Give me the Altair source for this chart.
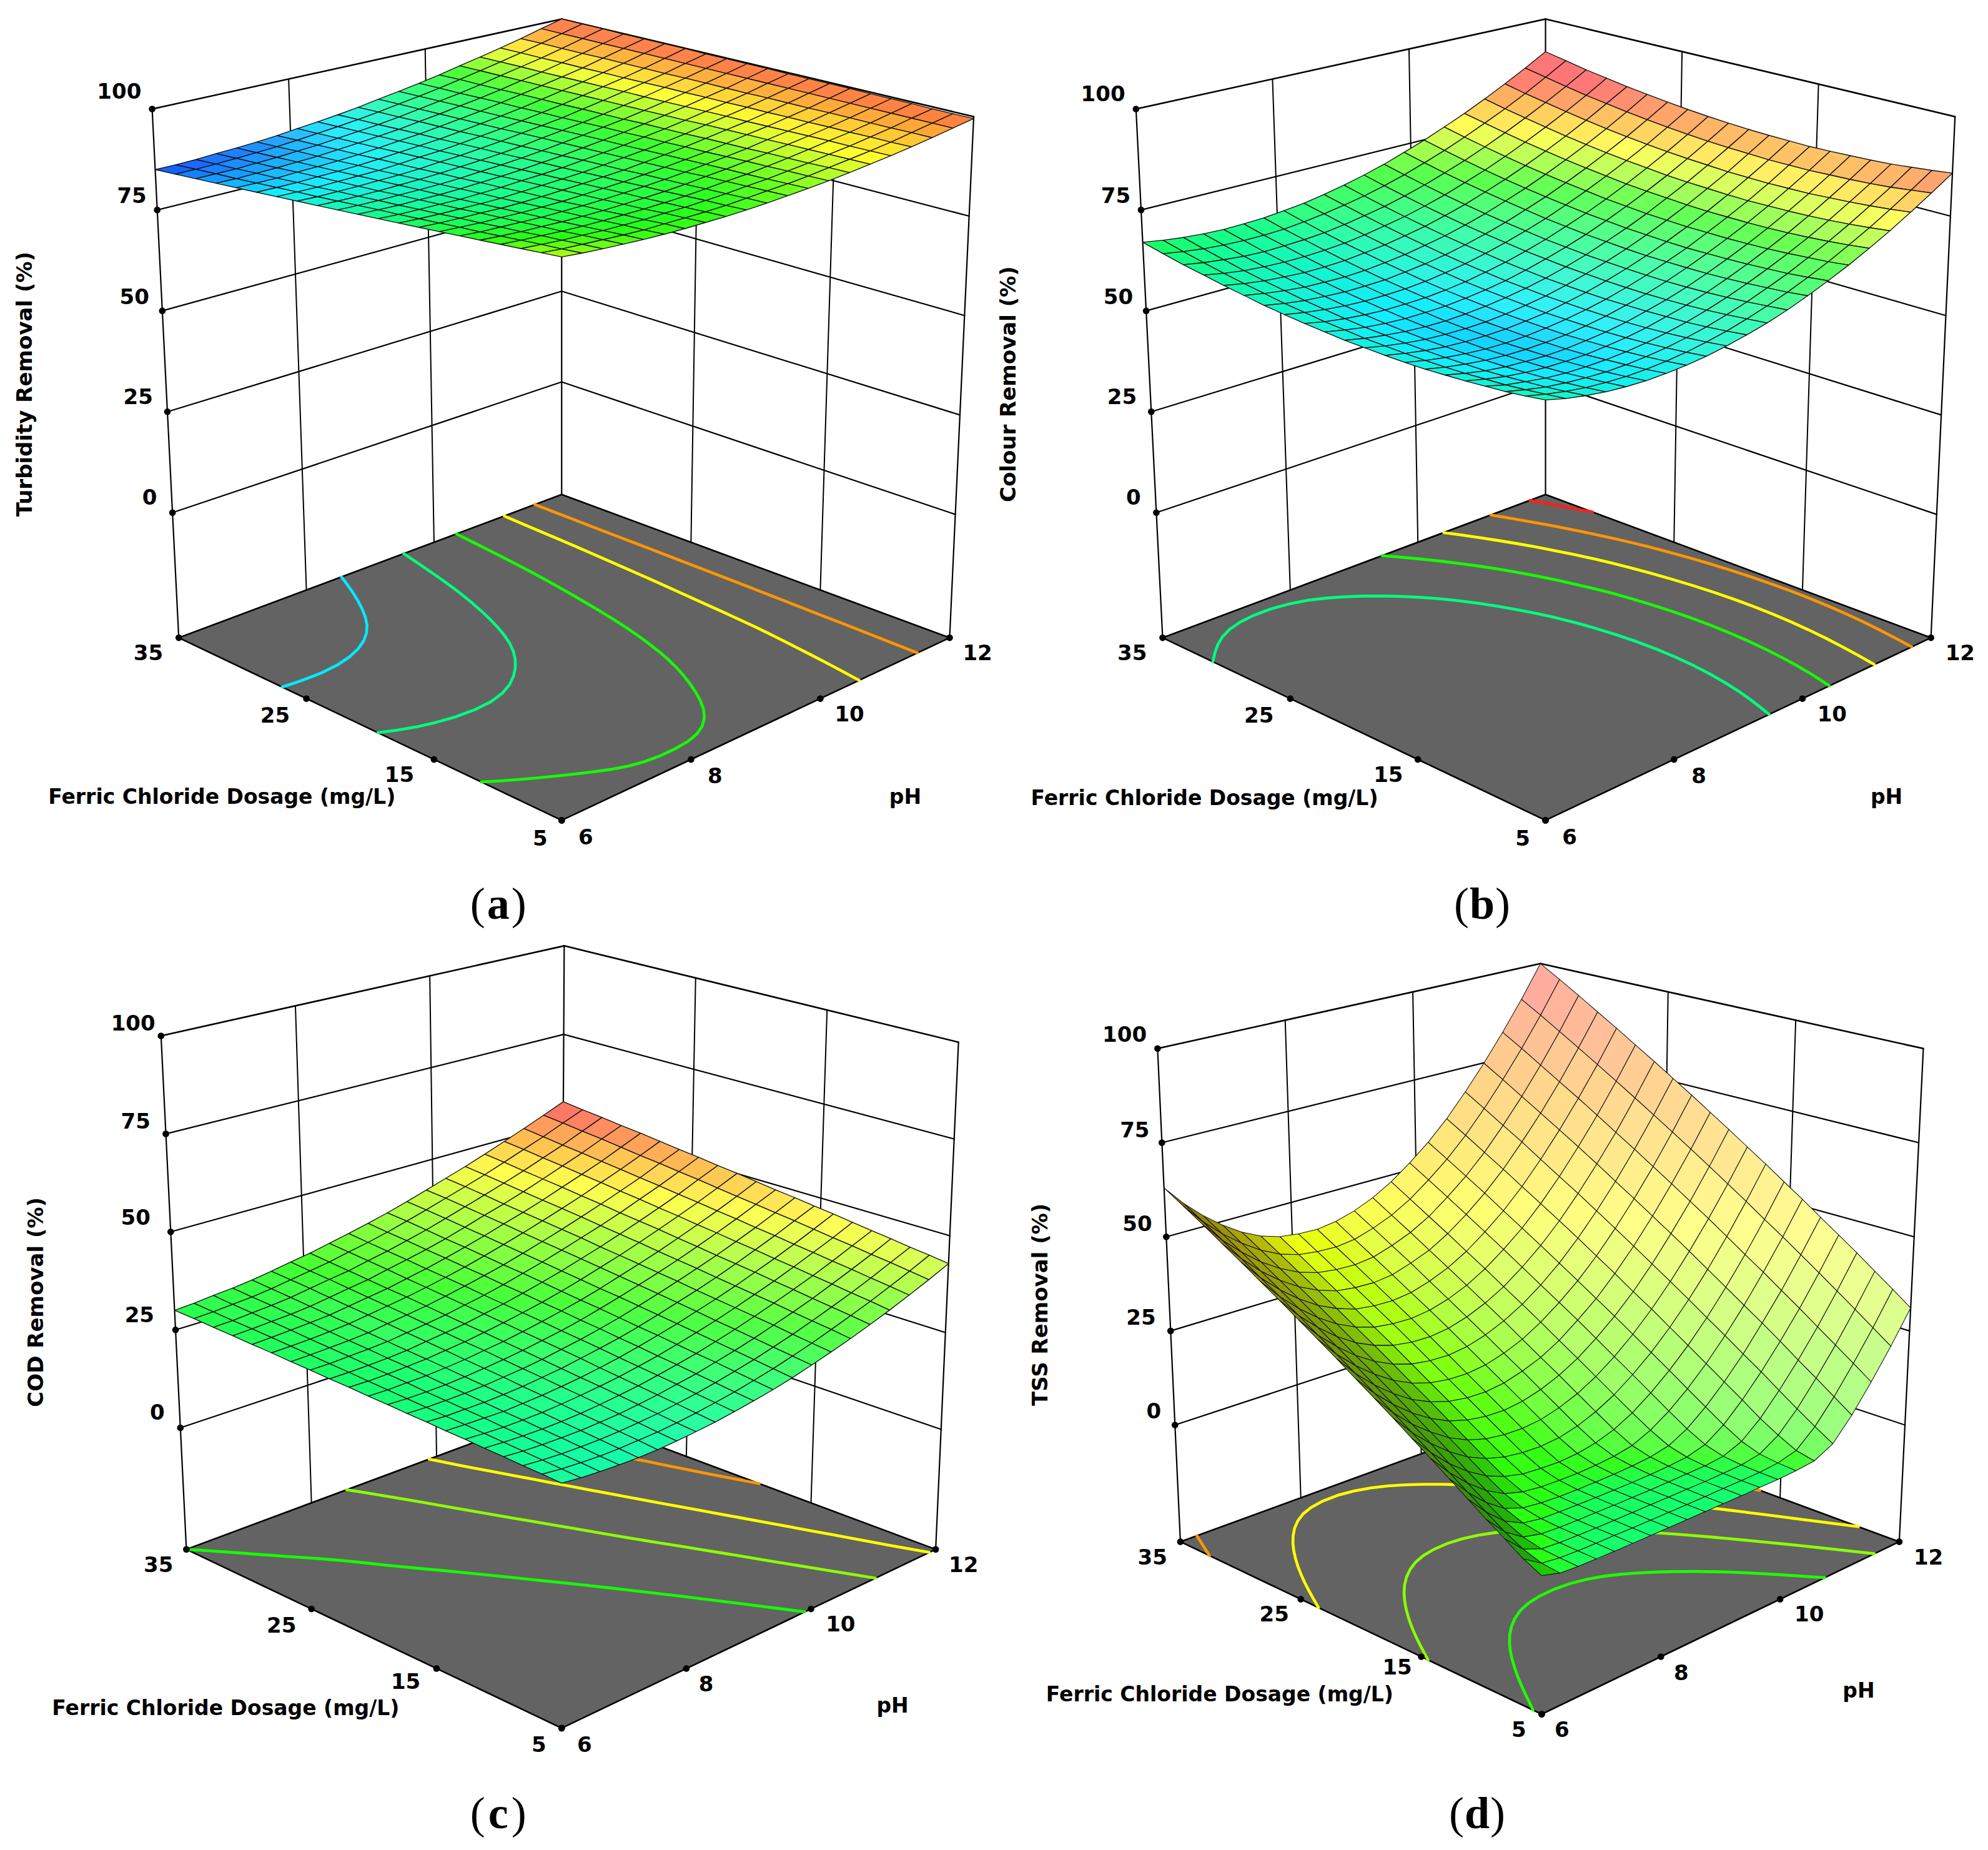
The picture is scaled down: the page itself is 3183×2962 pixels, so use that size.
import altair as alt
import numpy as np

# z values: rows = dosage 5..35 (21 rows), columns = pH 6..12 (21 columns)
TURBIDITY = [
[95.0,94.5,94.1,93.8,93.5,93.3,93.2,93.2,93.2,93.3,93.5,93.8,94.1,94.5,95.0,95.6,96.2,96.9,97.7,98.6,99.5],
[94.5,94.0,93.7,93.4,93.1,92.9,92.9,92.9,92.9,93.0,93.3,93.6,93.9,94.3,94.9,95.5,96.1,96.8,97.7,98.6,99.5],
[94.0,93.6,93.2,93.0,92.7,92.6,92.5,92.6,92.6,92.8,93.0,93.4,93.7,94.2,94.7,95.4,96.0,96.8,97.6,98.6,99.5],
[93.5,93.1,92.8,92.5,92.3,92.2,92.2,92.2,92.3,92.5,92.8,93.2,93.5,94.0,94.6,95.3,96.0,96.7,97.6,98.6,99.6],
[93.0,92.6,92.3,92.1,91.9,91.8,91.8,91.9,92.0,92.2,92.5,93.0,93.4,93.9,94.5,95.2,95.9,96.7,97.6,98.6,99.6],
[92.5,92.1,91.9,91.7,91.5,91.5,91.5,91.6,91.8,92.0,92.3,92.7,93.2,93.7,94.3,95.1,95.8,96.6,97.6,98.6,99.6],
[92.0,91.7,91.4,91.3,91.1,91.1,91.1,91.3,91.5,91.7,92.1,92.5,93.0,93.5,94.2,95.0,95.7,96.6,97.5,98.6,99.7],
[91.5,91.2,91.0,90.9,90.7,90.7,90.8,91.0,91.2,91.5,91.8,92.3,92.8,93.4,94.1,94.9,95.6,96.5,97.5,98.6,99.7],
[91.0,90.7,90.5,90.4,90.3,90.3,90.5,90.7,90.9,91.2,91.6,92.1,92.6,93.2,93.9,94.8,95.6,96.5,97.5,98.6,99.7],
[90.5,90.2,90.1,90.0,89.9,90.0,90.1,90.4,90.6,90.9,91.4,91.9,92.4,93.1,93.8,94.6,95.5,96.4,97.4,98.6,99.7],
[90.0,89.8,89.6,89.6,89.5,89.6,89.8,90.0,90.3,90.7,91.1,91.7,92.3,92.9,93.7,94.5,95.4,96.4,97.4,98.6,99.8],
[89.5,89.3,89.2,89.2,89.2,89.2,89.4,89.7,90.0,90.4,90.9,91.5,92.1,92.8,93.5,94.4,95.3,96.3,97.4,98.6,99.8],
[89.0,88.8,88.7,88.7,88.8,88.9,89.1,89.4,89.7,90.1,90.6,91.3,91.9,92.6,93.4,94.3,95.2,96.3,97.4,98.6,99.8],
[88.5,88.3,88.3,88.3,88.4,88.5,88.7,89.1,89.4,89.9,90.4,91.1,91.7,92.4,93.3,94.2,95.2,96.2,97.3,98.6,99.8],
[88.0,87.9,87.8,87.9,88.0,88.1,88.4,88.8,89.1,89.6,90.2,90.8,91.5,92.3,93.1,94.1,95.1,96.1,97.3,98.6,99.9],
[87.5,87.4,87.4,87.5,87.6,87.8,88.1,88.5,88.9,89.3,89.9,90.6,91.3,92.1,93.0,94.0,95.0,96.1,97.3,98.6,99.9],
[87.0,86.9,86.9,87.1,87.2,87.4,87.7,88.1,88.6,89.1,89.7,90.4,91.1,92.0,92.9,93.9,94.9,96.0,97.3,98.6,99.9],
[86.5,86.4,86.5,86.6,86.8,87.0,87.4,87.8,88.3,88.8,89.5,90.2,91.0,91.8,92.7,93.8,94.8,96.0,97.2,98.6,99.9],
[86.0,86.0,86.0,86.2,86.4,86.7,87.0,87.5,88.0,88.5,89.2,90.0,90.8,91.6,92.6,93.7,94.8,95.9,97.2,98.6,100.0],
[85.5,85.5,85.6,85.8,86.0,86.3,86.7,87.2,87.7,88.3,89.0,89.8,90.6,91.5,92.5,93.6,94.7,95.9,97.2,98.6,100.0],
[85.0,85.0,85.1,85.4,85.6,85.9,86.3,86.9,87.4,88.0,88.7,89.6,90.4,91.3,92.3,93.5,94.6,95.8,97.1,98.6,100.0],
]
COLOUR = [
[63.0,61.8,60.9,60.2,59.8,59.6,59.7,60.0,60.5,61.3,62.3,63.5,65.0,66.8,68.8,71.0,73.5,76.2,79.2,82.4,85.8],
[62.3,61.2,60.3,59.6,59.2,59.0,59.1,59.4,59.9,60.7,61.7,63.0,64.5,66.2,68.2,70.4,72.9,75.6,78.6,81.8,85.2],
[61.7,60.6,59.7,59.1,58.7,58.5,58.6,58.9,59.4,60.2,61.2,62.5,64.0,65.8,67.7,70.0,72.4,75.1,78.1,81.2,84.7],
[61.3,60.1,59.3,58.6,58.2,58.1,58.2,58.5,59.0,59.8,60.8,62.1,63.6,65.4,67.4,69.6,72.0,74.7,77.7,80.8,84.2],
[60.9,59.8,58.9,58.3,57.9,57.8,57.8,58.2,58.7,59.5,60.6,61.8,63.3,65.1,67.1,69.3,71.7,74.4,77.4,80.5,83.9],
[60.6,59.5,58.6,58.0,57.7,57.5,57.6,58.0,58.5,59.3,60.4,61.6,63.1,64.9,66.9,69.1,71.5,74.2,77.1,80.3,83.7],
[60.3,59.3,58.5,57.9,57.5,57.4,57.5,57.8,58.4,59.2,60.3,61.5,63.0,64.8,66.8,69.0,71.4,74.1,77.0,80.1,83.5],
[60.2,59.2,58.4,57.8,57.4,57.3,57.4,57.8,58.4,59.2,60.2,61.5,63.0,64.8,66.7,69.0,71.4,74.0,76.9,80.1,83.4],
[60.2,59.2,58.4,57.8,57.5,57.4,57.5,57.9,58.4,59.3,60.3,61.6,63.1,64.8,66.8,69.0,71.4,74.1,77.0,80.1,83.5],
[60.3,59.3,58.5,57.9,57.6,57.5,57.6,58.0,58.6,59.4,60.5,61.8,63.3,65.0,67.0,69.2,71.6,74.3,77.1,80.3,83.6],
[60.4,59.4,58.7,58.1,57.8,57.7,57.9,58.3,58.9,59.7,60.7,62.0,63.5,65.3,67.2,69.4,71.9,74.5,77.4,80.5,83.8],
[60.7,59.7,58.9,58.4,58.1,58.1,58.2,58.6,59.2,60.0,61.1,62.4,63.9,65.6,67.6,69.8,72.2,74.8,77.7,80.8,84.1],
[61.0,60.0,59.3,58.8,58.5,58.5,58.6,59.0,59.6,60.5,61.5,62.8,64.3,66.1,68.0,70.2,72.6,75.3,78.1,81.2,84.5],
[61.4,60.5,59.8,59.3,59.0,59.0,59.1,59.5,60.2,61.0,62.1,63.4,64.9,66.6,68.6,70.8,73.2,75.8,78.6,81.7,85.0],
[61.9,61.0,60.3,59.9,59.6,59.6,59.7,60.2,60.8,61.6,62.7,64.0,65.5,67.3,69.2,71.4,73.8,76.4,79.2,82.3,85.6],
[62.6,61.7,61.0,60.5,60.3,60.2,60.4,60.9,61.5,62.4,63.4,64.7,66.2,68.0,69.9,72.1,74.5,77.1,79.9,83.0,86.3],
[63.3,62.4,61.7,61.3,61.0,61.0,61.2,61.7,62.3,63.2,64.2,65.5,67.0,68.8,70.7,72.9,75.3,77.9,80.7,83.8,87.0],
[64.1,63.2,62.5,62.1,61.9,61.9,62.1,62.5,63.2,64.1,65.1,66.4,67.9,69.7,71.6,73.8,76.2,78.8,81.6,84.6,87.9],
[64.9,64.1,63.5,63.0,62.8,62.9,63.1,63.5,64.2,65.1,66.1,67.4,68.9,70.7,72.6,74.8,77.2,79.8,82.6,85.6,88.8],
[65.9,65.1,64.5,64.1,63.9,63.9,64.1,64.6,65.3,66.2,67.2,68.5,70.0,71.8,73.7,75.9,78.3,80.8,83.6,86.7,89.9],
[67.0,66.2,65.6,65.2,65.0,65.1,65.3,65.8,66.4,67.3,68.4,69.7,71.2,73.0,74.9,77.1,79.4,82.0,84.8,87.8,91.0],
]
COD = [
[25.0,24.5,24.2,24.0,23.9,24.0,24.3,24.7,25.2,25.9,26.7,27.6,28.7,30.0,31.4,32.9,34.6,36.4,38.4,40.5,42.8],
[25.3,24.8,24.5,24.3,24.3,24.5,24.7,25.1,25.7,26.4,27.2,28.2,29.3,30.6,32.0,33.6,35.3,37.1,39.1,41.2,43.5],
[25.5,25.1,24.8,24.7,24.7,24.9,25.2,25.6,26.2,26.9,27.8,28.8,29.9,31.2,32.6,34.2,35.9,37.7,39.7,41.9,44.1],
[25.8,25.4,25.2,25.1,25.1,25.3,25.6,26.1,26.7,27.5,28.3,29.4,30.5,31.8,33.3,34.8,36.5,38.4,40.4,42.5,44.8],
[26.0,25.7,25.5,25.4,25.5,25.7,26.1,26.6,27.2,28.0,28.9,29.9,31.1,32.4,33.9,35.5,37.2,39.0,41.0,43.2,45.4],
[26.3,26.0,25.8,25.8,25.9,26.2,26.6,27.1,27.7,28.5,29.4,30.5,31.7,33.0,34.5,36.1,37.8,39.7,41.7,43.8,46.1],
[26.5,26.3,26.2,26.1,26.3,26.6,27.0,27.5,28.2,29.0,30.0,31.1,32.3,33.7,35.1,36.7,38.5,40.3,42.3,44.5,46.8],
[26.8,26.5,26.5,26.5,26.7,27.0,27.5,28.0,28.8,29.6,30.5,31.6,32.9,34.3,35.7,37.3,39.1,41.0,43.0,45.2,47.4],
[27.0,26.8,26.8,26.9,27.1,27.5,27.9,28.5,29.3,30.1,31.1,32.2,33.5,34.9,36.4,38.0,39.7,41.6,43.6,45.8,48.1],
[27.3,27.1,27.1,27.2,27.5,27.9,28.4,29.0,29.8,30.6,31.6,32.8,34.1,35.5,37.0,38.6,40.4,42.3,44.3,46.5,48.7],
[27.5,27.4,27.5,27.6,27.9,28.3,28.9,29.5,30.3,31.2,32.2,33.3,34.6,36.1,37.6,39.2,41.0,42.9,44.9,47.1,49.4],
[27.8,27.7,27.8,28.0,28.3,28.8,29.3,30.0,30.8,31.7,32.7,33.9,35.2,36.7,38.2,39.9,41.7,43.6,45.6,47.8,50.1],
[28.0,28.0,28.1,28.3,28.6,29.2,29.8,30.4,31.3,32.2,33.3,34.5,35.8,37.3,38.8,40.5,42.3,44.2,46.2,48.5,50.7],
[28.3,28.3,28.5,28.7,29.0,29.6,30.2,30.9,31.8,32.7,33.8,35.1,36.4,37.9,39.5,41.1,42.9,44.9,46.9,49.1,51.4],
[28.5,28.6,28.8,29.0,29.4,30.1,30.7,31.4,32.3,33.3,34.4,35.6,37.0,38.5,40.1,41.8,43.6,45.5,47.5,49.8,52.0],
[28.8,28.9,29.1,29.4,29.8,30.5,31.2,31.9,32.8,33.8,34.9,36.2,37.6,39.1,40.7,42.4,44.2,46.2,48.2,50.4,52.7],
[29.0,29.2,29.5,29.8,30.2,30.9,31.6,32.3,33.3,34.3,35.5,36.8,38.2,39.8,41.3,43.0,44.9,46.8,48.8,51.1,53.4],
[29.3,29.5,29.8,30.1,30.6,31.3,32.1,32.8,33.9,34.9,36.0,37.3,38.8,40.4,41.9,43.6,45.5,47.5,49.5,51.8,54.0],
[29.5,29.7,30.1,30.5,31.0,31.8,32.6,33.3,34.4,35.4,36.6,37.9,39.4,41.0,42.6,44.3,46.1,48.1,50.1,52.4,54.7],
[29.8,30.0,30.4,30.8,31.4,32.2,33.0,33.8,34.9,35.9,37.1,38.5,40.0,41.6,43.2,44.9,46.8,48.8,50.8,53.1,55.3],
[30.0,30.3,30.8,31.2,31.8,32.6,33.5,34.3,35.4,36.5,37.7,39.0,40.5,42.1,43.8,45.5,47.4,49.4,51.5,53.7,56.0],
]
TSS = [
[2.0,0.7,0.4,0.3,0.2,0.2,0.2,0.2,0.2,0.2,0.2,0.2,0.3,0.3,0.5,1.0,3.4,8.8,15.5,22.9,31.1],
[4.1,1.2,0.6,0.4,0.3,0.3,0.2,0.2,0.2,0.2,0.2,0.3,0.3,0.4,0.8,2.0,6.2,12.0,18.8,26.3,34.6],
[7.0,2.7,0.9,0.5,0.4,0.3,0.3,0.3,0.3,0.3,0.3,0.3,0.4,0.6,1.4,4.3,9.2,15.3,22.1,29.7,38.0],
[9.8,5.0,1.9,0.8,0.5,0.4,0.4,0.3,0.3,0.3,0.4,0.5,0.6,1.1,3.0,7.0,12.4,18.5,25.4,33.1,41.5],
[12.9,7.9,3.9,1.6,0.8,0.6,0.5,0.4,0.4,0.4,0.5,0.7,1.1,2.4,5.6,10.2,15.7,21.9,28.8,36.5,44.9],
[16.0,10.9,6.6,3.3,1.6,1.0,0.7,0.6,0.6,0.7,0.9,1.3,2.3,4.8,8.6,13.3,18.8,25.2,32.1,39.9,48.3],
[19.1,13.9,9.5,5.9,3.3,1.9,1.3,1.1,1.0,1.2,1.6,2.5,4.6,7.7,11.7,16.5,22.1,28.4,35.5,43.3,51.8],
[22.2,17.0,12.5,8.8,5.9,3.9,2.7,2.3,2.1,2.4,3.3,4.9,7.4,10.8,14.9,19.7,25.3,31.7,38.8,46.6,55.2],
[25.4,20.1,15.7,11.9,8.8,6.6,5.2,4.5,4.3,4.7,5.9,7.8,10.4,13.9,18.0,22.9,28.6,35.0,42.2,50.1,58.7],
[28.5,23.2,18.7,15.0,11.8,9.5,8.0,7.3,7.1,7.6,8.9,10.8,13.5,17.0,21.2,26.2,31.9,38.4,45.6,53.5,62.1],
[31.6,26.3,21.8,18.0,14.9,12.5,11.0,10.2,10.0,10.6,11.9,13.9,16.6,20.2,24.4,29.3,35.1,41.7,48.9,56.9,65.6],
[34.8,29.4,24.9,21.1,17.9,15.6,14.0,13.2,13.0,13.6,15.0,16.9,19.7,23.4,27.5,32.6,38.4,45.0,52.3,60.3,69.0],
[37.9,32.5,28.0,24.2,21.0,18.6,17.0,16.2,16.0,16.6,18.0,20.0,22.9,26.5,30.7,35.8,41.7,48.3,55.6,63.7,72.5],
[41.0,35.6,31.1,27.2,24.1,21.7,20.1,19.3,19.1,19.7,21.1,23.2,26.0,29.6,33.9,39.1,45.0,51.6,59.0,67.1,75.9],
[44.2,38.8,34.2,30.3,27.1,24.8,23.2,22.4,22.2,22.8,24.2,26.3,29.1,32.8,37.1,42.3,48.3,55.0,62.3,70.5,79.4],
[47.3,41.9,37.3,33.4,30.2,27.8,26.2,25.5,25.3,25.9,27.3,29.4,32.3,36.0,40.3,45.5,51.5,58.3,65.7,73.9,82.8],
[50.5,45.0,40.4,36.5,33.3,30.9,29.2,28.5,28.3,28.9,30.4,32.5,35.4,39.2,43.5,48.7,54.8,61.6,69.1,77.3,86.3],
[53.6,48.2,43.5,39.6,36.4,34.0,32.3,31.6,31.4,32.0,33.6,35.6,38.6,42.4,46.8,52.0,58.2,64.9,72.4,80.7,89.7],
[56.8,51.3,46.7,42.7,39.5,37.0,35.4,34.7,34.5,35.1,36.7,38.8,41.7,45.6,50.0,55.2,61.4,68.2,75.8,84.1,93.2],
[59.9,54.4,49.8,45.9,42.6,40.1,38.5,37.8,37.6,38.2,39.8,41.9,44.9,48.8,53.2,58.5,64.7,71.6,79.2,87.5,96.6],
[63.0,57.5,52.9,49.0,45.7,43.2,41.6,40.9,40.7,41.4,42.9,45.1,48.1,52.0,56.4,61.7,68.0,74.9,82.5,90.8,100.0],
]

DOSE_TICKS = [5, 15, 25, 35]
PH_TICKS = [6, 8, 10, 12]
Z_TICKS = [0, 25, 50, 75, 100]
X_TITLE = "Ferric Chloride Dosage (mg/L)"
Y_TITLES = ["Turbidity Removal (%)", "Colour Removal (%)", "COD Removal (%)", "TSS Removal (%)"]

BLUE, CYAN, SPRING, GREEN = (0, 70, 255), (0, 235, 255), (0, 255, 128), (20, 255, 0)
LIME, YELLOW, ORANGE, RED = (140, 255, 0), (255, 255, 0), (255, 150, 0), (255, 30, 30)

S = 3183 / 1568  # sketch units (image at 1568 wide) to page pixels
ZF = -31.0       # height of the floor on the z scale

PANELS = [
    dict(z=TURBIDITY, title=Y_TITLES[0], letter="a", sw=1.35,
         corners=dict(F=(443, 647), L=(141, 503), R=(749, 503), B=(443, 390), FT=(443, 185), LT=(120, 86), RT=(768, 92), BT=(443, 15)),
         stops=[(85, BLUE), (87.7, CYAN), (90.2, SPRING), (92.9, GREEN), (95.8, YELLOW), (98, ORANGE), (100.5, RED)],
         levels=[87.7, 90.2, 92.9, 95.8, 98],
         zlab=[(118, 393), (109, 314), (106, 235), (104, 155), (94, 73)],
         dlab=[(426, 662), (315, 612), (217, 565), (117, 516)],
         plab=[(462, 661), (564, 613), (670, 564), (771, 516)],
         xt=(175, 629), ph=(714, 629), yt=(20, 303), cap=(393, 714)),
    dict(z=COLOUR, title=Y_TITLES[1], letter="b", sw=1.35,
         corners=dict(F=(1219, 647), L=(917, 503), R=(1523, 503), B=(1219, 390), FT=(1219, 185), LT=(896, 86), RT=(1542, 92), BT=(1219, 15)),
         stops=[(52.4, BLUE), (58.4, CYAN), (64.4, SPRING), (70.4, GREEN), (76.4, YELLOW), (82.4, ORANGE), (88.4, RED)],
         surface=[(52.4, BLUE), (58.4, CYAN), (64.4, SPRING), (70.4, GREEN), (77.5, YELLOW), (82, ORANGE), (86.5, RED)],
         levels=[64.4, 70.4, 76.4, 82.4, 88.4],
         zlab=[(894, 393), (885, 314), (882, 235), (880, 155), (870, 75)],
         dlab=[(1201, 662), (1095, 612), (993, 565), (893, 516)],
         plab=[(1238, 661), (1340, 613), (1445, 564), (1546, 516)],
         xt=(950, 630), ph=(1488, 629), yt=(796, 303), cap=(1169, 714)),
    dict(z=COD, title=Y_TITLES[2], letter="c", sw=1.35,
         corners=dict(F=(443, 1363), L=(147, 1222), R=(738, 1222), B=(443, 1112), FT=(443, 911), LT=(127, 817), RT=(756, 822), BT=(445, 746)),
         stops=[(17.4, CYAN), (24, SPRING), (30, GREEN), (36, LIME), (42, YELLOW), (49, ORANGE), (56.5, RED)],
         surface=[(19.4, CYAN), (26, SPRING), (33, GREEN), (39.5, LIME), (45.5, YELLOW), (50.5, ORANGE), (55.5, RED)],
         levels=[30, 36, 42, 49],
         zlab=[(124, 1115), (110, 1038), (107, 961), (107, 885), (105, 808)],
         dlab=[(425, 1377), (320, 1327), (222, 1283), (125, 1235)],
         plab=[(461, 1377), (557, 1329), (663, 1282), (760, 1235)],
         xt=(178, 1348), ph=(704, 1346), yt=(29, 1027), cap=(393, 1431)),
    dict(z=TSS, title=Y_TITLES[3], letter="d", sw=1.05,
         corners=dict(F=(1216, 1352), L=(931, 1216), R=(1498, 1216), B=(1216, 1112), FT=(1216, 918), LT=(913, 827), RT=(1517, 827), BT=(1215, 760)),
         stops=[(0.2, SPRING), (1.2, GREEN), (20, LIME), (39, YELLOW), (58, ORANGE), (100, RED)],
         surface=[(0.2, (0, 255, 100)), (1.0, GREEN), (22, LIME), (44, YELLOW), (74, ORANGE), (100, RED)],
         levels=[3, 20, 39, 58],
         zlab=[(910, 1114), (900, 1040), (897, 966), (895, 892), (887, 817)],
         dlab=[(1198, 1365), (1102, 1316), (1005, 1274), (909, 1229)],
         plab=[(1232, 1365), (1326, 1320), (1427, 1274), (1521, 1229)],
         xt=(962, 1337), ph=(1466, 1334), yt=(821, 1029), cap=(1165, 1431)),
]


def px(p):
    return np.array([p[0] * S - 8, p[1] * S - 8])


def project(c, u, v, z):
    """Place a point of the box: the eight box corners seen in the picture span it."""
    w = (z - ZF) / (100 - ZF)
    base = (1 - u) * (1 - v) * px(c["F"]) + u * (1 - v) * px(c["L"]) + (1 - u) * v * px(c["R"]) + u * v * px(c["B"])
    top = (1 - u) * (1 - v) * px(c["FT"]) + u * (1 - v) * px(c["LT"]) + (1 - u) * v * px(c["RT"]) + u * v * px(c["BT"])
    p = (1 - w) * base + w * top
    return (round(float(p[0]), 2), round(float(p[1]), 2))


def colour(stops, z):
    zs = [s[0] for s in stops]
    return np.array([np.interp(z, zs, [s[1][k] for s in stops]) for k in range(3)])


def hexof(c):
    return "#%02x%02x%02x" % tuple(int(round(min(255, max(0, x)))) for x in c)


def shaded(base, slope):
    """Lighting of a cell from its slope along pH."""
    if slope >= -25:
        s = max(slope, 0)
        w = 0.08 + 0.75 * s / (s + 90)
        return base + (255 - base) * w
    over = -slope - 25
    return base * (1 - 0.6 * over / (over + 30)) + (255 - base) * 0.04


def feature(kind, coords, **props):
    return {"type": "Feature", "geometry": {"type": kind, "coordinates": coords}, "properties": props}


def chained(segments):
    """Join contour pieces into whole lines and soften the grid's corners."""
    left = [list(s) for s in segments]
    out = []
    while left:
        line = left.pop()
        grew = True
        while grew:
            grew = False
            for k, s in enumerate(left):
                if s[0] == line[-1]:
                    line.append(s[1])
                elif s[1] == line[-1]:
                    line.append(s[0])
                elif s[0] == line[0]:
                    line.insert(0, s[1])
                elif s[1] == line[0]:
                    line.insert(0, s[0])
                else:
                    continue
                left.pop(k)
                grew = True
                break
        a = np.array(line, float)
        for _ in range(5):
            if len(a) > 2:
                a[1:-1] = (a[:-2] + 2 * a[1:-1] + a[2:]) / 4
        out.append([[round(float(x), 2), round(float(y), 2)] for x, y in a])
    return out


walls, floors, contours, surfaces, dots, ticklabels, xtitles, ytitles, caps, bolds = [], [], [], [], [], [], [], [], [], []

for P in PANELS:
    C = P["corners"]
    Z = np.array(P["z"], float)
    n = Z.shape[0] - 1
    m = Z.shape[1] - 1

    # walls: left one at dosage 35, right one at pH 12
    def seg(a, b, w):
        walls.append(feature("LineString", [list(project(C, *a)), list(project(C, *b))], w=w))

    for z in Z_TICKS:
        seg((1, 0, z), (1, 1, z), 2.6 if z == 100 else 2.2)
        seg((1, 1, z), (0, 1, z), 2.6 if z == 100 else 2.2)
    for ph in PH_TICKS[1:-1]:
        v = (ph - 6) / 6
        seg((1, v, ZF), (1, v, 100), 2.0)
    for d in DOSE_TICKS[1:-1]:
        u = (d - 5) / 30
        seg((u, 1, ZF), (u, 1, 100), 2.0)
    seg((1, 0, ZF), (1, 0, 100), 2.2)
    seg((0, 1, ZF), (0, 1, 100), 2.2)
    seg((1, 1, ZF), (1, 1, 100), 2.2)

    ring = [list(project(C, a, b, ZF)) for a, b in [(0, 0), (1, 0), (1, 1), (0, 1), (0, 0)]]
    floors.append(feature("Polygon", [ring]))

    for lev in P["levels"]:
        pieces = []
        for i in range(n):
            for j in range(m):
                c = [(i, j), (i, j + 1), (i + 1, j + 1), (i + 1, j)]
                pts = []
                for k in range(4):
                    a, b = c[k], c[(k + 1) % 4]
                    za, zb = Z[a] - lev - 0.0013, Z[b] - lev - 0.0013
                    if za * zb < 0:
                        t = za / (za - zb)
                        pts.append(project(C, (a[0] + t * (b[0] - a[0])) / n, (a[1] + t * (b[1] - a[1])) / m, ZF))
                for k in range(0, len(pts) - 1, 2):
                    pieces.append((pts[k], pts[k + 1]))
        contours.append(feature("MultiLineString", chained(pieces), c=hexof(colour(P["stops"], lev))))

    # surface, painted from the back corner to the front corner
    sstops = P.get("surface", P["stops"])
    for i in range(n - 1, -1, -1):
        for j in range(m - 1, -1, -1):
            quad = [(i, j), (i + 1, j), (i + 1, j + 1), (i, j + 1), (i, j)]
            mean = (Z[i, j] + Z[i + 1, j] + Z[i, j + 1] + Z[i + 1, j + 1]) / 4
            slope = ((Z[i, j + 1] + Z[i + 1, j + 1]) - (Z[i, j] + Z[i + 1, j])) / 2 * m
            fill = hexof(shaded(colour(sstops, mean), slope))
            coords = [list(project(C, a / n, b / m, Z[a, b])) for a, b in quad]
            surfaces.append(feature("Polygon", [coords], fill=fill, sw=P["sw"]))

    # axis ticks and their labels
    for z, lab in zip(Z_TICKS, P["zlab"]):
        p = project(C, 1, 0, z)
        dots.append({"lon": p[0], "lat": p[1]})
        q = px(lab)
        ticklabels.append({"lon": float(q[0]), "lat": float(q[1]), "t": str(z)})
    for d, lab in zip(DOSE_TICKS, P["dlab"]):
        p = project(C, (d - 5) / 30, 0, ZF)
        dots.append({"lon": p[0], "lat": p[1]})
        q = px(lab)
        ticklabels.append({"lon": float(q[0]), "lat": float(q[1]), "t": str(d)})
    for ph, lab in zip(PH_TICKS, P["plab"]):
        p = project(C, 0, (ph - 6) / 6, ZF)
        dots.append({"lon": p[0], "lat": p[1]})
        q = px(lab)
        ticklabels.append({"lon": float(q[0]), "lat": float(q[1]), "t": str(ph)})

    q = px(P["xt"])
    xtitles.append({"lon": float(q[0]), "lat": float(q[1]), "t": X_TITLE})
    q = px(P["ph"])
    xtitles.append({"lon": float(q[0]), "lat": float(q[1]), "t": "pH"})
    q = px(P["yt"])
    ytitles.append({"lon": float(q[0]), "lat": float(q[1]), "t": P["title"]})
    q = px(P["cap"])
    caps.append({"lon": float(q[0]) - 33, "lat": float(q[1]), "t": "("})
    caps.append({"lon": float(q[0]) + 33, "lat": float(q[1]), "t": ")"})
    bolds.append({"lon": float(q[0]), "lat": float(q[1]), "t": P["letter"]})


PROJ = dict(type="identity", scale=1, translate=[0, 0])


def geo(data, **mark):
    return alt.Chart(alt.Data(values=data)).mark_geoshape(**mark).project(**PROJ)


def text(data, **mark):
    return (alt.Chart(alt.Data(values=data)).mark_text(align="center", baseline="middle", color="black", **mark)
            .encode(longitude="lon:Q", latitude="lat:Q", text="t:N").project(**PROJ))


layers = [
    geo(walls, filled=False, stroke="#000000", strokeCap="round").encode(
        strokeWidth=alt.StrokeWidth("properties.w:Q", scale=None)),
    geo(floors, fill="#636363", stroke="#000000", strokeWidth=2.6, strokeJoin="round"),
    geo(contours, filled=False, strokeWidth=4.6, strokeCap="round", strokeJoin="round").encode(
        stroke=alt.Stroke("properties.c:N", scale=None)),
    alt.Chart(alt.Data(values=dots)).mark_circle(color="black", opacity=1, size=115).encode(
        longitude="lon:Q", latitude="lat:Q").project(**PROJ),
    text(ticklabels, font="DejaVu Sans", fontWeight="bold", fontSize=34),
    text(xtitles, font="DejaVu Sans", fontWeight="bold", fontSize=33),
    text(ytitles, font="DejaVu Sans", fontWeight="bold", fontSize=34, angle=270),
    text(caps, font="Liberation Serif", fontSize=72),
    text(bolds, font="Liberation Serif", fontWeight="bold", fontSize=72),
    geo(surfaces, stroke="#111111", strokeJoin="round").encode(
        fill=alt.Fill("properties.fill:N", scale=None),
        strokeWidth=alt.StrokeWidth("properties.sw:Q", scale=None)),
]

chart = alt.layer(*layers).properties(
    width=3167, height=2946, padding=0, autosize=alt.AutoSizeParams(type="none"),
    background="white",
).configure_view(stroke=None)

chart.save("out.html", embed_options={"renderer": "svg", "actions": False})
